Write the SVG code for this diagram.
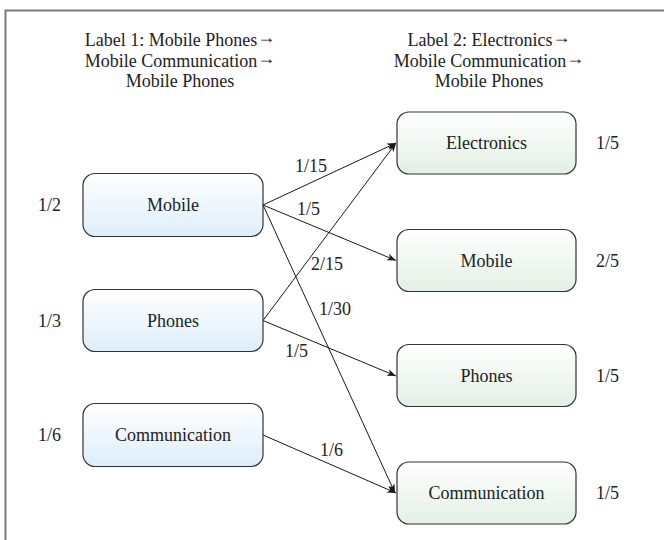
<svg xmlns="http://www.w3.org/2000/svg" width="664" height="540" viewBox="0 0 664 540">
  <defs>
    <linearGradient id="gradBlue" x1="0" y1="0" x2="0" y2="1">
      <stop offset="0" stop-color="#ffffff"/>
      <stop offset="1" stop-color="#dceefa"/>
    </linearGradient>
    <linearGradient id="gradGreen" x1="0" y1="0" x2="0" y2="1">
      <stop offset="0" stop-color="#ffffff"/>
      <stop offset="1" stop-color="#e2f0e4"/>
    </linearGradient>
    <marker id="arrow" markerWidth="10" markerHeight="8" refX="9" refY="3.5" orient="auto" markerUnits="userSpaceOnUse">
      <path d="M0,0 L9,3.5 L0,7 L2.5,3.5 z" fill="#1a1a1a"/>
    </marker>
  </defs>
  <style>
    .head { font-size: 18px; text-anchor: middle; }
    .name { font-size: 18px; text-anchor: middle; }
    .prob { font-size: 18px; }
    .edge { font-size: 18px; }
    .boxL { fill: url(#gradBlue); stroke: #333; stroke-width: 1.2; }
    .boxR { fill: url(#gradGreen); stroke: #333; stroke-width: 1.2; }
    .conn { stroke: #1a1a1a; stroke-width: 1; fill: none; marker-end: url(#arrow); }
    .frame { stroke: #7a7a7a; stroke-width: 2; fill: none; }
  </style>

  <!-- frame edges -->
  <path class="frame" d="M5.5,540 V10.5 H664"/>

  <g font-family="'Liberation Serif', 'DejaVu Serif', 'Times New Roman', serif" fill="#222">
  <!-- column headings; arrows raised to mid-height -->
  <g id="heading-left">
    <text class="head" x="180" y="46">Label 1: Mobile Phones<tspan dy="-3">→</tspan></text>
    <text class="head" x="180" y="66.5">Mobile Communication<tspan dy="-3">→</tspan></text>
    <text class="head" x="180" y="87">Mobile Phones</text>
  </g>
  <g id="heading-right">
    <text class="head" x="489" y="46">Label 2: Electronics<tspan dy="-3">→</tspan></text>
    <text class="head" x="489" y="66.5">Mobile Communication<tspan dy="-3">→</tspan></text>
    <text class="head" x="489" y="87">Mobile Phones</text>
  </g>

  <!-- connectors -->
  <g id="connectors">
    <line class="conn" x1="263" y1="205" x2="396" y2="143"/>
    <line class="conn" x1="263" y1="205" x2="396" y2="260.5"/>
    <line class="conn" x1="263" y1="205" x2="395" y2="493"/>
    <line class="conn" x1="263" y1="320.5" x2="396" y2="143"/>
    <line class="conn" x1="263" y1="320.5" x2="396" y2="376"/>
    <line class="conn" x1="263" y1="435" x2="396" y2="493"/>
    <text class="edge" x="295" y="172">1/15</text>
    <text class="edge" x="297" y="215">1/5</text>
    <text class="edge" x="311" y="270">2/15</text>
    <text class="edge" x="319" y="315">1/30</text>
    <text class="edge" x="285" y="357">1/5</text>
    <text class="edge" x="320" y="456">1/6</text>
  </g>

  <!-- source nodes -->
  <g id="src-mobile">
    <rect class="boxL" x="83" y="173.5" width="180" height="63" rx="12"/>
    <text class="name" x="173" y="211">Mobile</text>
    <text class="prob" x="38" y="211">1/2</text>
  </g>
  <g id="src-phones">
    <rect class="boxL" x="83" y="289.5" width="180" height="62" rx="12"/>
    <text class="name" x="173" y="326.5">Phones</text>
    <text class="prob" x="38" y="326.5">1/3</text>
  </g>
  <g id="src-communication">
    <rect class="boxL" x="83" y="403.5" width="180" height="63" rx="12"/>
    <text class="name" x="173" y="441">Communication</text>
    <text class="prob" x="38" y="441">1/6</text>
  </g>

  <!-- target nodes -->
  <g id="dst-electronics">
    <rect class="boxR" x="397" y="112" width="179" height="62" rx="12"/>
    <text class="name" x="486.5" y="149">Electronics</text>
    <text class="prob" x="596" y="149">1/5</text>
  </g>
  <g id="dst-mobile">
    <rect class="boxR" x="397" y="229.5" width="179" height="62" rx="12"/>
    <text class="name" x="486.5" y="266.5">Mobile</text>
    <text class="prob" x="596" y="266.5">2/5</text>
  </g>
  <g id="dst-phones">
    <rect class="boxR" x="397" y="344.5" width="179" height="62" rx="12"/>
    <text class="name" x="486.5" y="381.5">Phones</text>
    <text class="prob" x="596" y="381.5">1/5</text>
  </g>
  <g id="dst-communication">
    <rect class="boxR" x="397" y="462" width="179" height="62" rx="12"/>
    <text class="name" x="486.5" y="499">Communication</text>
    <text class="prob" x="596" y="499">1/5</text>
  </g>
  </g>
</svg>
